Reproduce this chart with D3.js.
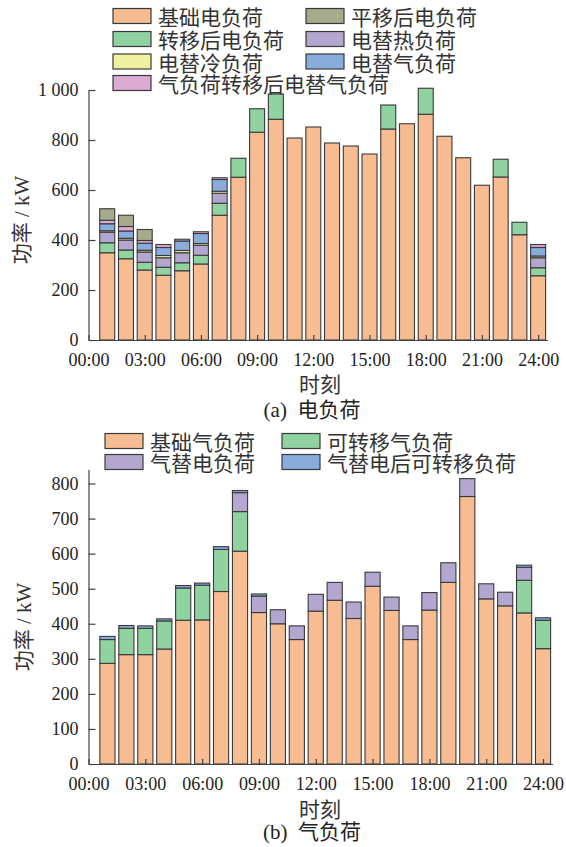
<!DOCTYPE html>
<html>
<head>
<meta charset="utf-8">
<script src="https://cdn.jsdelivr.net/npm/d3@7"></script>
<style>
  body { margin: 0; background: #fff; }
  svg { display: block; }
</style>
</head>
<body>
<svg id="chart" width="566" height="847"></svg>
<script>
// hours 1..24, one bar per hour
const hours = d3.range(1, 25);
const hourTicks = [0, 3, 6, 9, 12, 15, 18, 21, 24];
const hourLabels = ['00:00', '03:00', '06:00', '09:00', '12:00', '15:00', '18:00', '21:00', '24:00'];

// (a) electric load, kW
const elecBase     = [349, 325, 280, 259, 277, 304, 499, 651, 831, 883, 808, 852, 788, 776, 744, 844, 865, 903, 815, 729, 619, 652, 421, 257];
const elecTransfer = [40, 35, 31, 32, 32, 35, 48, 76, 94, 101, 0, 0, 0, 0, 0, 96, 0, 104, 0, 0, 0, 71, 50, 32];
const elecHeat     = [42, 40, 41, 38, 40, 40, 40, 0, 0, 0, 0, 0, 0, 0, 0, 0, 0, 0, 0, 0, 0, 0, 0, 40];
const elecCold     = [6, 7, 7, 9, 9, 7, 8, 0, 0, 0, 0, 0, 0, 0, 0, 0, 0, 0, 0, 0, 0, 0, 0, 7];
const elecGas      = [28, 29, 28, 32, 38, 40, 47, 0, 0, 0, 0, 0, 0, 0, 0, 0, 0, 0, 0, 0, 0, 0, 0, 34];
const elecGasMoved = [14, 18, 11, 12, 7, 7, 7, 0, 0, 0, 0, 0, 0, 0, 0, 0, 0, 0, 0, 0, 0, 0, 0, 12];
const elecShift    = [46, 45, 44, 0, 0, 0, 0, 0, 0, 0, 0, 0, 0, 0, 0, 0, 0, 0, 0, 0, 0, 0, 0, 0];

// (b) gas load, kW
const gasBase      = [287, 312, 312, 328, 410, 411, 492, 607, 432, 400, 355, 436, 467, 415, 507, 438, 355, 439, 518, 763, 471, 451, 431, 329];
const gasTransfer  = [68, 75, 75, 80, 92, 99, 120, 113, 0, 0, 0, 0, 0, 0, 0, 0, 0, 0, 0, 0, 0, 0, 93, 81];
const gasElec      = [0, 0, 0, 0, 0, 0, 0, 54, 47, 40, 39, 48, 51, 47, 40, 38, 39, 50, 56, 51, 43, 39, 37, 0];
const gasElecMoved = [9, 8, 7, 6, 7, 6, 8, 6, 6, 0, 0, 0, 0, 0, 0, 0, 0, 0, 0, 0, 0, 0, 6, 7];

const C = {
  orange: '#f8bc92', olive: '#a7ab8c', green: '#90d2a0', purple: '#b3a6cf',
  yellow: '#f1f1a2', blue: '#88acdb', pink: '#dcabd3'
};

const SERIF = "'Liberation Serif', 'Times New Roman', Tinos, 'DejaVu Serif', serif";
const MIXED = "'Liberation Serif', 'Times New Roman', 'Noto Sans CJK SC', serif";
const CJK = "'Noto Sans CJK SC', sans-serif";

const svg = d3.select('#chart');
const spaceFmt = d3.formatLocale({ decimal: '.', thousands: ' ', grouping: [3], currency: ['', ''] }).format(',');

function panel(opt) {
  const x = d3.scaleLinear().domain([0, 24.5]).range(opt.xr);
  const y = d3.scaleLinear().domain([0, opt.ymax]).range(opt.yr);

  const rows = hours.map((h, i) => {
    const r = { hour: h };
    opt.series.forEach(s => { r[s.key] = s.values[i]; });
    return r;
  });
  const stacked = d3.stack().keys(opt.stackOrder)(rows);
  const colorOf = {};
  opt.series.forEach(s => { colorOf[s.key] = s.color; });

  const g = svg.append('g');
  stacked.forEach(layer => {
    g.append('g')
      .selectAll('rect')
      .data(layer.filter(d => d[1] - d[0] > 0))
      .join('rect')
      .attr('x', d => x(d.data.hour - 0.4))
      .attr('width', d => x(d.data.hour + 0.4) - x(d.data.hour - 0.4))
      .attr('y', d => y(d[1]))
      .attr('height', d => y(d[0]) - y(d[1]))
      .attr('fill', colorOf[layer.key])
      .attr('stroke', '#3a3a3a')
      .attr('stroke-width', 1.1);
  });

  const xAxis = d3.axisBottom(x).tickValues(hourTicks)
    .tickFormat((d, i) => hourLabels[i])
    .tickSizeInner(-5).tickSizeOuter(0).tickPadding(13);
  const yAxis = d3.axisLeft(y).tickValues(opt.yticks)
    .tickFormat(spaceFmt)
    .tickSizeInner(-7).tickSizeOuter(0).tickPadding(10);

  const gx = svg.append('g').attr('transform', `translate(0,${opt.yr[0]})`).call(xAxis);
  const gy = svg.append('g').attr('transform', `translate(${opt.xr[0]},0)`).call(yAxis);
  [gx, gy].forEach(a => {
    a.attr('font-family', null).attr('font-size', null);
    a.select('.domain').attr('stroke', '#444').attr('stroke-width', 1.2);
    a.selectAll('.tick line').attr('stroke', '#444').attr('stroke-width', 1.2);
    a.selectAll('.tick text')
      .style('font-family', SERIF).style('font-size', '18px').style('fill', '#222');
  });

  svg.append('text')
    .attr('transform', `translate(${opt.ytitle[0]},${opt.ytitle[1]}) rotate(-90)`)
    .attr('text-anchor', 'middle').attr('dominant-baseline', 'central')
    .style('font-family', MIXED).style('font-size', '21px').style('fill', '#333')
    .text('功率 / kW');

  svg.append('text').attr('x', 320).attr('y', opt.xtitleY)
    .attr('text-anchor', 'middle').attr('dominant-baseline', 'central')
    .style('font-family', CJK).style('font-size', '21px').style('fill', '#333')
    .text('时刻');

  svg.append('text').attr('x', 312).attr('y', opt.captionY)
    .attr('text-anchor', 'middle').attr('dominant-baseline', 'central')
    .attr('xml:space', 'preserve')
    .style('font-family', MIXED).style('font-size', '21px').style('fill', '#222')
    .text(opt.caption);

  // legend
  const lg = svg.append('g');
  opt.legend.forEach((item, i) => {
    const col = i % 2, row = Math.floor(i / 2);
    const lx = opt.legendCols[col], ly = opt.legendRows[row];
    lg.append('rect').attr('x', lx).attr('y', ly - 7.5).attr('width', 38).attr('height', 15)
      .attr('fill', item.color).attr('stroke', '#3a3a3a').attr('stroke-width', 1.2);
    lg.append('text').attr('x', lx + 45).attr('y', ly)
      .attr('dominant-baseline', 'central')
      .style('font-family', CJK).style('font-size', '21px').style('fill', '#333')
      .text(item.label);
  });
}

const elecSeries = [
  { key: 'base', label: '基础电负荷', values: elecBase, color: C.orange },
  { key: 'shift', label: '平移后电负荷', values: elecShift, color: C.olive },
  { key: 'transfer', label: '转移后电负荷', values: elecTransfer, color: C.green },
  { key: 'heat', label: '电替热负荷', values: elecHeat, color: C.purple },
  { key: 'cold', label: '电替冷负荷', values: elecCold, color: C.yellow },
  { key: 'gas', label: '电替气负荷', values: elecGas, color: C.blue },
  { key: 'gasMoved', label: '气负荷转移后电替气负荷', values: elecGasMoved, color: C.pink }
];

panel({
  xr: [88.5, 547.5], yr: [340, 90], ymax: 1000,
  yticks: [0, 200, 400, 600, 800, 1000],
  series: elecSeries,
  stackOrder: ['base', 'transfer', 'heat', 'cold', 'gas', 'gasMoved', 'shift'],
  legend: elecSeries,
  legendCols: [113, 306], legendRows: [16, 39, 61.5, 83],
  ytitle: [22, 220], xtitleY: 383, captionY: 410, caption: '(a)  电负荷'
});

const gasSeries = [
  { key: 'base', label: '基础气负荷', values: gasBase, color: C.orange },
  { key: 'transfer', label: '可转移气负荷', values: gasTransfer, color: C.green },
  { key: 'elec', label: '气替电负荷', values: gasElec, color: C.purple },
  { key: 'elecMoved', label: '气替电后可转移负荷', values: gasElecMoved, color: C.blue }
];

panel({
  xr: [88.5, 552.5], yr: [764, 469.5], ymax: 840,
  yticks: [0, 100, 200, 300, 400, 500, 600, 700, 800],
  series: gasSeries,
  stackOrder: ['base', 'transfer', 'elec', 'elecMoved'],
  legend: gasSeries,
  legendCols: [105, 282], legendRows: [441, 462],
  ytitle: [24, 627], xtitleY: 808, captionY: 832, caption: '(b)  气负荷'
});
</script>
</body>
</html>
